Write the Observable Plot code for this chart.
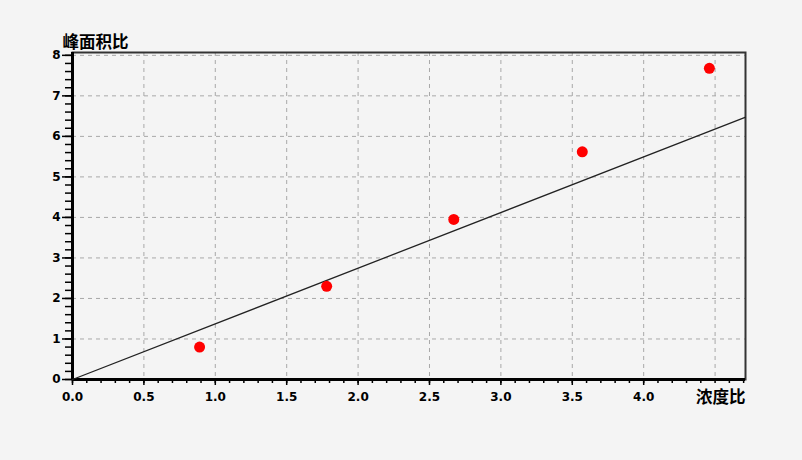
<!DOCTYPE html>
<html>
<head>
<meta charset="utf-8">
<script src="https://cdn.jsdelivr.net/npm/d3@7"></script>
<script src="https://cdn.jsdelivr.net/npm/@observablehq/plot@0.6"></script>
<style>
  html, body { margin: 0; padding: 0; background: #f4f4f4; overflow: hidden; }
</style>
</head>
<body>
<div id="chart"></div>
<script>
// Data
const concRatio = [0.89, 1.78, 2.67, 3.57, 4.46];        // 浓度比
const areaRatio = [0.80, 2.30, 3.95, 5.62, 7.68];        // 峰面积比
const fitX = [0, 4.71];                                   // fitted line endpoints
const fitY = [0, 6.47];

// Axes
const xDomain = [0, 4.713];
const yDomain = [0, 8.07];
const xTickValues = [0, 0.5, 1, 1.5, 2, 2.5, 3, 3.5, 4];
const xTickLabels = ["0.0", "0.5", "1.0", "1.5", "2.0", "2.5", "3.0", "3.5", "4.0"];
const xGridValues = [0.5, 1, 1.5, 2, 2.5, 3, 3.5, 4, 4.5];
const xMinorTicks = d3.range(0, 48).map(i => i / 10);
const yTickValues = [0, 1, 2, 3, 4, 5, 6, 7, 8];
const yTickLabels = ["0", "1", "2", "3", "4", "5", "6", "7", "8"];
const yGridValues = [1, 2, 3, 4, 5, 6, 7, 8];
const yMinorTicks = d3.range(0, 41).map(i => i / 5);
const xLabel = "浓度比";
const yLabel = "峰面积比";

const points = concRatio.map((x, i) => ({x, y: areaRatio[i]}));
const fit = fitX.map((x, i) => ({x, y: fitY[i]}));

const gridStyle = {stroke: "#a8a8a8", strokeOpacity: 1, strokeDasharray: "4,4", strokeWidth: 1};

const chart = Plot.plot({
  width: 802,
  height: 460,
  marginLeft: 72,
  marginRight: 57,
  marginTop: 52,
  marginBottom: 81,
  style: {background: "#f4f4f4", color: "#000", fontFamily: "DejaVu Sans, sans-serif", fontWeight: "bold", fontSize: "12px"},
  x: {domain: xDomain},
  y: {domain: yDomain},
  marks: [
    Plot.gridX(xGridValues, gridStyle),
    Plot.gridY(yGridValues, gridStyle),
    Plot.frame({stroke: "#333", strokeWidth: 2}),
    Plot.axisX({ticks: xMinorTicks, tickSize: 4, tickFormat: () => "", strokeWidth: 1.5, label: null}),
    Plot.axisX({ticks: xTickValues, tickSize: 6, tickPadding: 7, strokeWidth: 1.5,
      tickFormat: (d, i) => xTickLabels[i], label: null}),
    Plot.axisY({ticks: yMinorTicks, tickSize: 7, tickFormat: () => "", strokeWidth: 1.5, label: null}),
    Plot.axisY({ticks: yTickValues, tickSize: 10, tickPadding: 2, strokeWidth: 1.5,
      tickFormat: (d, i) => yTickLabels[i], label: null}),
    Plot.ruleX([0], {stroke: "#000", strokeWidth: 3}),
    Plot.ruleY([0], {stroke: "#000", strokeWidth: 3}),
    Plot.line(fit, {x: "x", y: "y", stroke: "#222", strokeWidth: 1.3}),
    Plot.dot(points, {x: "x", y: "y", r: 5.5, fill: "#ff0000", stroke: "none"}),
    Plot.text([yLabel], {frameAnchor: "top-left", dx: -10, dy: -10, textAnchor: "start", lineAnchor: "middle",
      fontSize: 16.5, fontWeight: "bold", fontFamily: "Noto Sans CJK SC", fill: "#000"}),
    Plot.text([xLabel], {frameAnchor: "bottom-right", dx: 0, dy: 18, textAnchor: "end", lineAnchor: "middle",
      fontSize: 16.5, fontWeight: "bold", fontFamily: "Noto Sans CJK SC", fill: "#000"})
  ]
});
document.getElementById("chart").appendChild(chart);
</script>
</body>
</html>
